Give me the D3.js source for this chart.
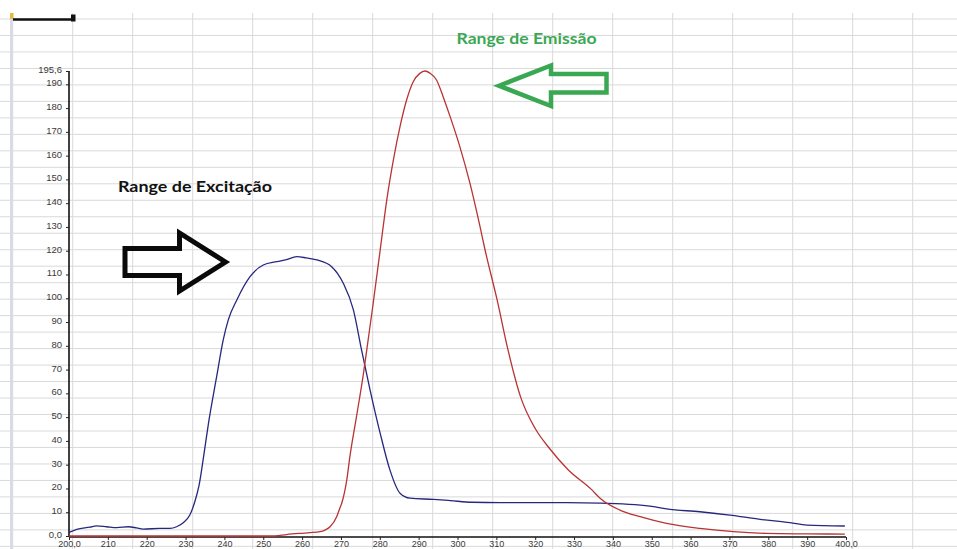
<!DOCTYPE html>
<html>
<head>
<meta charset="utf-8">
<script src="https://cdnjs.cloudflare.com/ajax/libs/d3/7.8.5/d3.min.js"></script>
<style>
  html, body { margin: 0; padding: 0; background: #ffffff; }
  svg { display: block; }
</style>
</head>
<body>
<svg id="chart" width="957" height="549"></svg>
<script>
// Excitation spectrum (nm, intensity)
const excitationWavelength = [200, 202, 205.4, 207.1, 209.7, 212.3, 215.3, 217.4, 219.1, 223.4, 226, 227.7, 229.4, 231.1, 232.4, 233.5, 234.7, 235.9, 238, 239.7, 241, 243.2, 246.6, 250, 253.5, 256, 258.6, 261, 263.8, 267.6, 270.6, 273.2, 275.3, 277.5, 280.1, 282.6, 285.2, 287.8, 293.8, 298.1, 303.7, 311, 328.1, 336.7, 349.5, 353.8, 362.4, 370.1, 377.9, 385.6, 389.9, 399.7];
const excitationIntensity  = [1.5, 2.8, 3.7, 4.3, 3.9, 3.5, 3.9, 3.4, 2.9, 3.2, 3.2, 3.9, 5.6, 8.8, 14.5, 21.5, 34, 47.4, 67, 82.5, 90.9, 99.3, 109.1, 114, 115.4, 116.3, 117.5, 117, 116.1, 113.3, 106.3, 95.1, 78.3, 61.4, 43.2, 27.8, 18, 15.9, 15.4, 14.9, 14.2, 14, 14, 13.8, 12.6, 11.4, 10.2, 8.8, 7, 5.6, 4.6, 4.2];

// Emission spectrum (nm, intensity)
const emissionWavelength = [200, 253, 256, 259.5, 262, 264.6, 266, 267.2, 268.9, 269.7, 270.2, 271.5, 272.3, 274, 275.8, 277, 278.3, 280.1, 281.8, 283.5, 285.2, 286.9, 288.6, 290.3, 291.6, 292.9, 294.6, 296.3, 298.1, 300.6, 303.2, 305.8, 307.1, 310.2, 313, 316.3, 320, 323.8, 328.4, 334.6, 336.7, 341.8, 347, 353.8, 362.4, 371, 379.5, 390, 399.7];
const emissionIntensity  = [0, 0, 0.6, 1.1, 1.4, 1.8, 2.6, 3.9, 8.1, 11.7, 13.8, 23.6, 33.4, 50.2, 68.4, 82.5, 97.9, 120.3, 141.4, 158.2, 172.2, 183.4, 191.1, 194.6, 195.6, 194.7, 191.8, 184.8, 176.4, 163.8, 148.4, 130.1, 120.3, 99.3, 78.3, 58.2, 45.2, 36.6, 28, 19.4, 15.9, 10.9, 8.1, 5.3, 3.2, 1.8, 1.1, 0.9, 0.8];

// Axis ticks and their labels
const xTickValues = [200, 210, 220, 230, 240, 250, 260, 270, 280, 290, 300, 310, 320, 330, 340, 350, 360, 370, 380, 390, 400];
const xTickLabels = ["200,0", "210", "220", "230", "240", "250", "260", "270", "280", "290", "300", "310", "320", "330", "340", "350", "360", "370", "380", "390", "400,0"];
const yTickValues = [0, 10, 20, 30, 40, 50, 60, 70, 80, 90, 100, 110, 120, 130, 140, 150, 160, 170, 180, 190, 195.6];
const yTickLabels = ["0,0", "10", "20", "30", "40", "50", "60", "70", "80", "90", "100", "110", "120", "130", "140", "150", "160", "170", "180", "190", "195,6"];

// Annotations
const excitationLabel = "Range de Excitação";
const emissionLabel = "Range de Emissão";

const W = 957, H = 549;
const svg = d3.select("#chart");

// ---- worksheet background: cell grid ----
const sheet = svg.append("g");
sheet.append("rect").attr("width", W).attr("height", H).attr("fill", "#ffffff");
const colX = d3.range(12.7, W, 60);
const rowY = d3.range(19, H, 16.48);
sheet.selectAll("line.row").data(rowY).join("line")
  .attr("x1", 0).attr("x2", W).attr("y1", d => d).attr("y2", d => d)
  .attr("stroke", "#d9d9d9").attr("stroke-width", 1);
sheet.selectAll("line.col").data(colX).join("line")
  .attr("x1", d => d).attr("x2", d => d).attr("y1", 13).attr("y2", H)
  .attr("stroke", "#d9d9d9").attr("stroke-width", 1);
sheet.append("rect").attr("x", 10).attr("y", 13).attr("width", 3).attr("height", H - 13).attr("fill", "#d9dbe6");
sheet.append("rect").attr("x", 10).attr("y", 13).attr("width", 3.5).attr("height", 6).attr("fill", "#e8b93a");
sheet.append("line").attr("x1", 13).attr("x2", 72).attr("y1", 19.5).attr("y2", 19.5)
  .attr("stroke", "#111").attr("stroke-width", 2.5);
sheet.append("rect").attr("x", 71).attr("y", 14.5).attr("width", 4.5).attr("height", 7).attr("fill", "#111");

// ---- scales ----
const x = d3.scaleLinear().domain([200, 400]).range([69, 846]);
const y = d3.scaleLinear().domain([0, 195.6]).range([536, 71]);

// ---- axes ----
const axisFont = "'Liberation Sans', Arial, sans-serif";
const yAxis = d3.axisLeft(y).tickValues(yTickValues).tickSize(3).tickPadding(4)
  .tickFormat((d, i) => yTickLabels[i]);
const gy = svg.append("g").attr("transform", "translate(69,0)").call(yAxis);
gy.attr("font-family", null);
gy.select(".domain").attr("stroke", "#111").attr("stroke-width", 1.6).attr("fill", "none").attr("d", "M0,71V537");
gy.selectAll(".tick line").attr("stroke", "#222");
gy.selectAll(".tick text").attr("fill", "#3a3a3a").attr("font-size", 9.5)
  .attr("font-family", axisFont).attr("dy", "0.15em");

const xAxis = d3.axisBottom(x).tickValues(xTickValues).tickSize(3).tickPadding(1)
  .tickFormat((d, i) => xTickLabels[i]);
const gx = svg.append("g").attr("transform", "translate(0,537)").call(xAxis);
gx.attr("font-family", null);
gx.select(".domain").attr("stroke", "#111").attr("stroke-width", 1.6).attr("fill", "none").attr("d", "M69,0H846");
gx.selectAll(".tick line").attr("stroke", "#222");
gx.selectAll(".tick text").attr("fill", "#3a3a3a").attr("font-size", 9)
  .attr("font-family", axisFont).attr("dy", "0.62em");

// ---- spectra ----
const excitation = excitationWavelength.map((w, i) => [w, excitationIntensity[i]]);
const emission = emissionWavelength.map((w, i) => [w, emissionIntensity[i]]);
const line = d3.line().x(d => x(d[0])).y(d => y(d[1])).curve(d3.curveMonotoneX);

svg.append("path").datum(excitation).attr("d", line)
  .attr("fill", "none").attr("stroke", "#26287e").attr("stroke-width", 1.3);
svg.append("path").datum(emission).attr("d", line)
  .attr("fill", "none").attr("stroke", "#b83434").attr("stroke-width", 1.3);

// ---- annotations ----
const noteFont = "Lato, 'Open Sans', sans-serif";
svg.append("text").attr("x", 118).attr("y", 192)
  .attr("font-family", noteFont).attr("font-weight", 700).attr("font-size", 14.5)
  .attr("fill", "#111").attr("textLength", 154).attr("lengthAdjust", "spacingAndGlyphs")
  .text(excitationLabel);
svg.append("text").attr("x", 456.5).attr("y", 43.5)
  .attr("font-family", noteFont).attr("font-weight", 700).attr("font-size", 14.5)
  .attr("fill", "#3aa853").attr("textLength", 140).attr("lengthAdjust", "spacingAndGlyphs")
  .text(emissionLabel);

// block arrows
const arrowLine = d3.line();
svg.append("path")
  .attr("d", arrowLine([[225.5, 262], [179.5, 233], [179.5, 248.5], [125, 248.5], [125, 275.5], [179.5, 275.5], [179.5, 291]]) + "Z")
  .attr("fill", "none").attr("stroke", "#0a0a0a").attr("stroke-width", 5).attr("stroke-linejoin", "miter");
svg.append("path")
  .attr("d", arrowLine([[499, 85.75], [551, 65.5], [551, 74], [606.5, 74], [606.5, 92.5], [551, 92.5], [551, 106]]) + "Z")
  .attr("fill", "none").attr("stroke", "#3aa853").attr("stroke-width", 4.5).attr("stroke-linejoin", "miter");
</script>
</body>
</html>
